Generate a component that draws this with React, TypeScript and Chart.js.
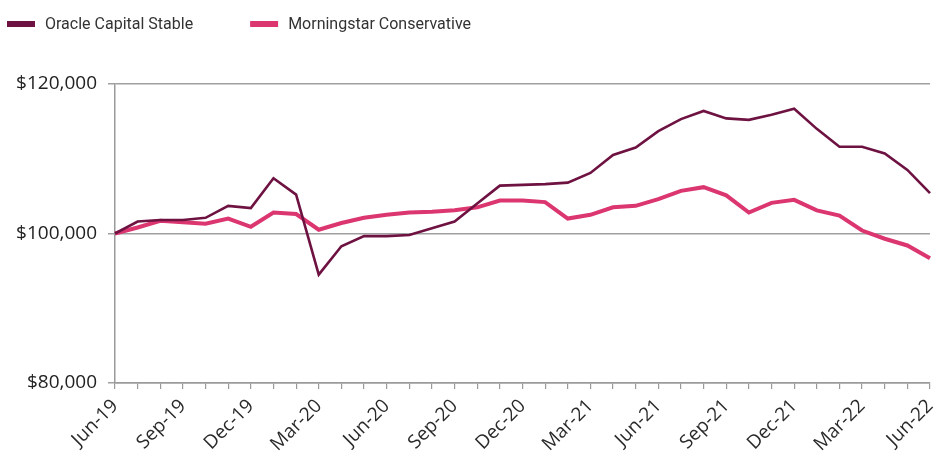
import React, { useEffect, useRef } from "react";
import { Chart, registerables } from "chart.js";

Chart.register(...registerables);

const months: string[] = [
  "Jun-19", "Jul-19", "Aug-19", "Sep-19", "Oct-19", "Nov-19", "Dec-19",
  "Jan-20", "Feb-20", "Mar-20", "Apr-20", "May-20", "Jun-20", "Jul-20", "Aug-20", "Sep-20", "Oct-20", "Nov-20", "Dec-20",
  "Jan-21", "Feb-21", "Mar-21", "Apr-21", "May-21", "Jun-21", "Jul-21", "Aug-21", "Sep-21", "Oct-21", "Nov-21", "Dec-21",
  "Jan-22", "Feb-22", "Mar-22", "Apr-22", "May-22", "Jun-22",
];

const oracleCapitalStable: number[] = [
  100000, 101600, 101800, 101800, 102100, 103700, 103400,
  107400, 105200, 94500, 98300, 99650, 99650, 99800, 100700, 101600, 104000, 106400, 106500,
  106600, 106800, 108100, 110500, 111500, 113700, 115300, 116400, 115400, 115200, 115900, 116700,
  114000, 111600, 111600, 110700, 108500, 105400,
];

const morningstarConservative: number[] = [
  100000, 100800, 101700, 101500, 101300, 102000, 100900,
  102800, 102600, 100500, 101400, 102100, 102500, 102800, 102900, 103100, 103500, 104400, 104400,
  104200, 102000, 102500, 103500, 103700, 104600, 105700, 106200, 105100, 102800, 104100, 104500,
  103100, 102400, 100400, 99300, 98400, 96700,
];

const seriesNames: string[] = ["Oracle Capital Stable", "Morningstar Conservative"];
const seriesColors: string[] = ["#6e1242", "#db3670"];
const yTicks: number[] = [80000, 100000, 120000];

const legendPlugin = {
  id: "customLegend",
  afterDraw(chart: any) {
    const ctx = chart.ctx;
    ctx.save();
    ctx.font = "16px Roboto";
    ctx.textBaseline = "middle";
    let x = 7;
    chart.data.datasets.forEach((ds: any) => {
      ctx.fillStyle = ds.borderColor;
      ctx.fillRect(x, 21, 28, 6);
      ctx.fillStyle = "#333333";
      ctx.fillText(ds.label, x + 38, 24.5);
      x += 38 + ctx.measureText(ds.label).width + 57;
    });
    ctx.restore();
  },
};

export default function App() {
  const ref = useRef<HTMLCanvasElement | null>(null);

  useEffect(() => {
    document.body.style.margin = "0";
    if (!ref.current) return;
    const chart = new Chart(ref.current, {
      type: "line",
      data: {
        labels: months,
        datasets: [
          {
            label: seriesNames[0],
            data: oracleCapitalStable,
            borderColor: seriesColors[0],
            backgroundColor: seriesColors[0],
            borderWidth: 2.6,
            pointRadius: 0,
            tension: 0,
            order: 1,
          },
          {
            label: seriesNames[1],
            data: morningstarConservative,
            borderColor: seriesColors[1],
            backgroundColor: seriesColors[1],
            borderWidth: 4,
            pointRadius: 0,
            tension: 0,
            order: 2,
          },
        ],
      },
      options: {
        responsive: false,
        animation: false,
        devicePixelRatio: 1,
        layout: { padding: { top: 84, right: 6, bottom: 0, left: 0 } },
        plugins: {
          legend: { display: false },
          tooltip: { enabled: false },
        },
        scales: {
          x: {
            type: "category",
            offset: false,
            grid: {
              display: true,
              drawOnChartArea: false,
              drawTicks: true,
              tickLength: 6,
              color: "#9a9a9a",
              lineWidth: 1.2,
            },
            border: { display: true, color: "#9a9a9a", width: 1.5 },
            ticks: {
              autoSkip: false,
              maxRotation: 45,
              minRotation: 45,
              padding: 6,
              color: "#2a2a2a",
              font: { family: "Open Sans", size: 19 },
              callback: (_v: any, i: number) => (i % 3 === 0 ? months[i] : ""),
            },
            afterFit: (scale: any) => {
              scale.height = 72;
              scale.paddingRight = 0;
              scale.paddingLeft = 0;
            },
          },
          y: {
            min: yTicks[0],
            max: yTicks[yTicks.length - 1],
            afterBuildTicks: (scale: any) => {
              scale.ticks = yTicks.map((v) => ({ value: v }));
            },
            grid: {
              display: true,
              drawTicks: true,
              tickLength: 7,
              color: "#a0a0a0",
              lineWidth: 1.5,
            },
            border: { display: true, color: "#9a9a9a", width: 1.5 },
            ticks: {
              padding: 11,
              color: "#222222",
              font: { family: "Open Sans", size: 19 },
              callback: (v: any) => "$" + Number(v).toLocaleString("en-US"),
            },
            afterFit: (scale: any) => {
              scale.width = 115;
            },
          },
        },
      },
      plugins: [legendPlugin],
    });
    return () => chart.destroy();
  }, []);

  return (
    <div style={{ width: 936, height: 455 }}>
      <canvas ref={ref} width={936} height={455} />
    </div>
  );
}
